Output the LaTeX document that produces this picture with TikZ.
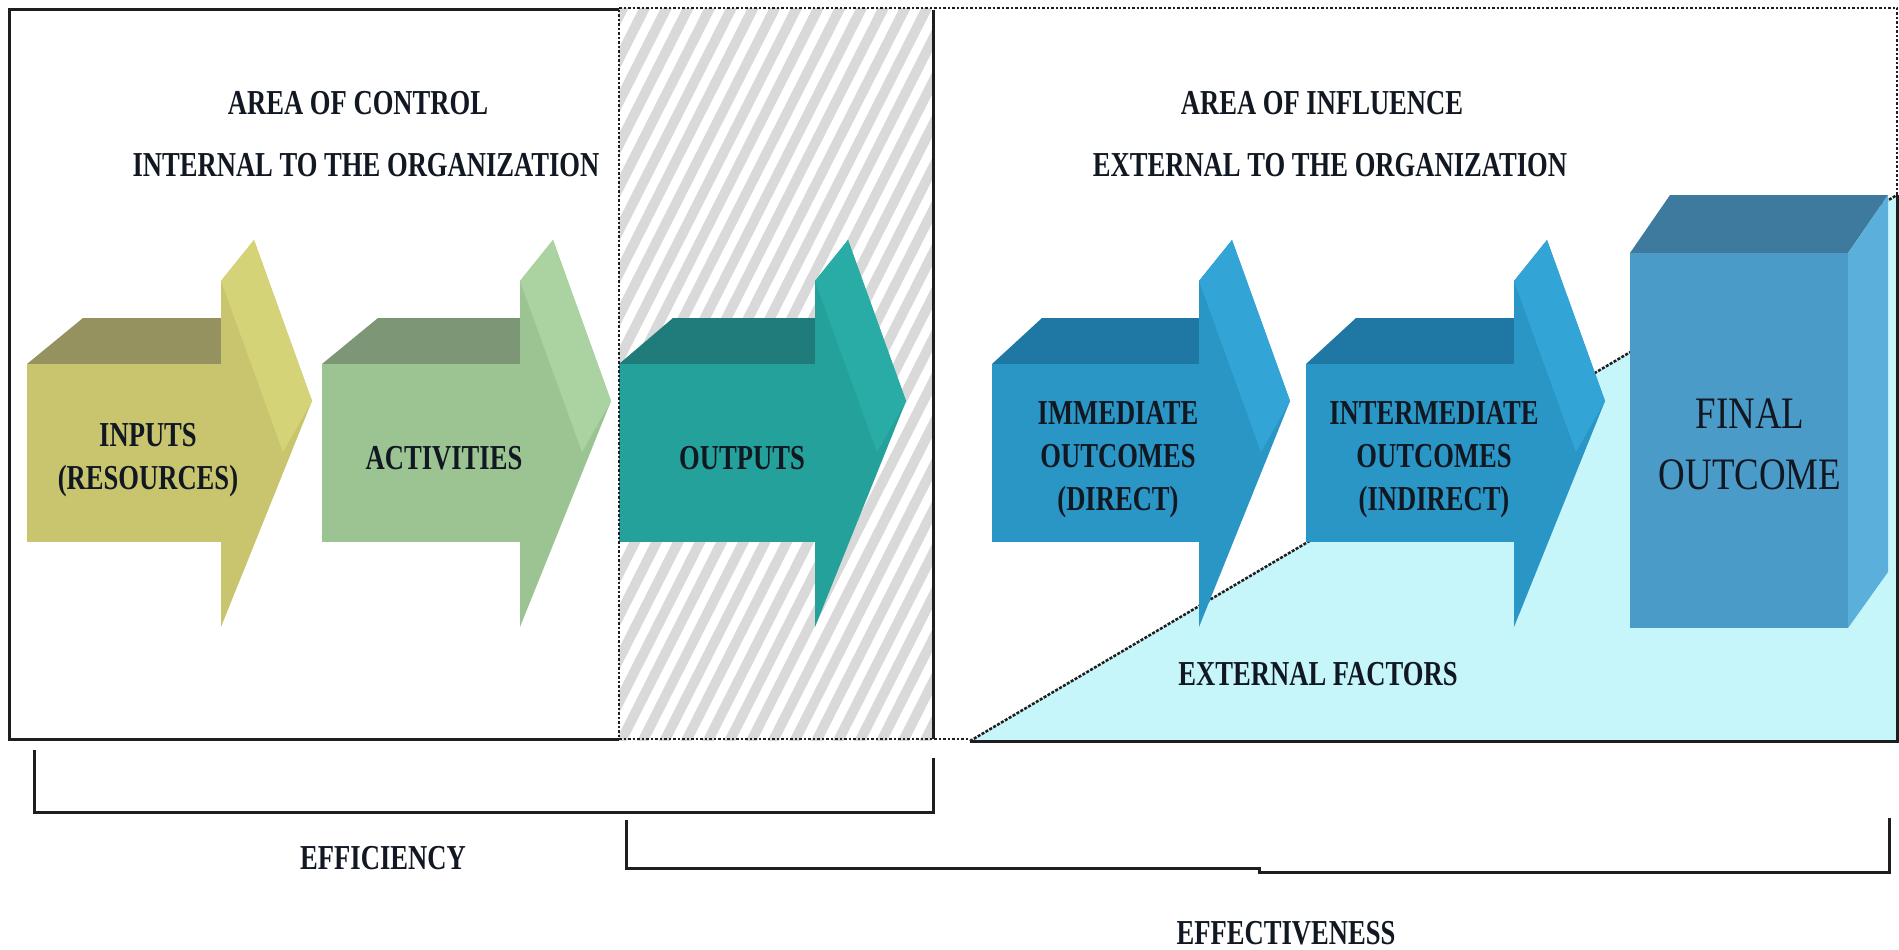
\documentclass[tikz,border=0pt]{standalone}
\usepackage{fontspec}
\setmainfont{Liberation Serif}[FakeStretch=0.76]
\newfontfamily\finalfont{Liberation Serif}[FakeStretch=0.82]
\definecolor{inF}{HTML}{C8C56E}\definecolor{inT}{HTML}{96925F}\definecolor{inS}{HTML}{D4D377}
\definecolor{acF}{HTML}{9CC493}\definecolor{acT}{HTML}{7C9676}\definecolor{acS}{HTML}{ABD3A2}
\definecolor{ouF}{HTML}{24A19B}\definecolor{ouT}{HTML}{1F7C7A}\definecolor{ouS}{HTML}{2AACA6}
\definecolor{blF}{HTML}{2A96C6}\definecolor{blT}{HTML}{1F78A3}\definecolor{blS}{HTML}{32A4D6}
\definecolor{fiF}{HTML}{4B9BC8}\definecolor{fiT}{HTML}{3E7A9E}\definecolor{fiS}{HTML}{5AAFDB}
\definecolor{extF}{HTML}{C6F5FA}
\definecolor{hatchgrey}{HTML}{D9D9D9}
\definecolor{txt}{HTML}{111822}
\definecolor{frame}{HTML}{1E1E1E}
\newcommand\tdarrow[6]{% #1 L, #2 S, #3 front, #4 top, #5 side, #6 top offset
  \fill[#4] (#1,364) -- ({#1+#6},318) -- (#2,318) -- (#2,364) -- cycle;
  \fill[#3] (#1,364) rectangle (#2,542);
  \fill[#3] (#2,281) -- ({#2+33},240) -- ({#2+91},401) -- (#2,627) -- cycle;
  \fill[#5] (#2,281) -- ({#2+33},240) -- ({#2+91},401) -- ({#2+62},452) -- cycle;
}
\tikzset{
  lbl/.style={font=\bfseries\fontsize{35}{43}\selectfont, align=center, inner sep=0pt, text=txt},
  solidframe/.style={line width=3pt, draw=frame},
  dotframe/.style={line width=2.5pt, draw=frame, dash pattern=on 2.5pt off 2pt},
  bracket/.style={line width=3pt, draw=frame},
}
\begin{document}
\begin{tikzpicture}[x=1pt,y=-1pt]
\useasboundingbox[fill=white] (0,0) rectangle (1899,950);
% external factors triangle
\fill[extF] (970,741) -- (1897,195) -- (1897,741) -- cycle;
% hatched outputs area
\begin{scope}
  \clip (619,9) rectangle (933,740);
  \foreach \i in {-20,...,16}
    \draw[hatchgrey, line width=10pt] ({619+\i*21.7},745) -- ({619+\i*21.7+375},4);
\end{scope}
% diagonal boundary
\draw[line width=2.5pt, dash pattern=on 3pt off 1.5pt, draw=frame] (970,741) -- (1897,195);
% arrows
\tdarrow{27}{221}{inF}{inT}{inS}{56}
\tdarrow{322}{520}{acF}{acT}{acS}{56}
\tdarrow{619}{815}{ouF}{ouT}{ouS}{54}
\tdarrow{992}{1199}{blF}{blT}{blS}{50}
\tdarrow{1306}{1514}{blF}{blT}{blS}{50}
% final outcome box
\fill[fiT] (1630,253) -- (1670,195) -- (1888,195) -- (1848,253) -- cycle;
\fill[fiS] (1848,253) -- (1888,195) -- (1888,572) -- (1848,628) -- cycle;
\fill[fiF] (1630,253) rectangle (1848,628);
% frames
\draw[solidframe] (619,10) -- (9,10) -- (9,739) -- (619,739);
\draw[dotframe] (619,10) -- (619,739);
\draw[dotframe] (619,739) -- (970,739);
\draw[solidframe] (933,10) -- (933,739);
\draw[dotframe] (619,8) -- (1897,8) -- (1897,195);
\draw[solidframe] (1897,195) -- (1897,741) -- (970,741);
% texts
\node[lbl] (t1) at (358,103) {AREA OF CONTROL};
\node[lbl] (t2) at (366,165) {INTERNAL TO THE ORGANIZATION};
\node[lbl] (t3) at (1322,103) {AREA OF INFLUENCE};
\node[lbl] (t4) at (1330,165) {EXTERNAL TO THE ORGANIZATION};
\node[lbl] (inp) at (148,460) {INPUTS\\(RESOURCES)};
\node[lbl] (act) at (444,458) {ACTIVITIES};
\node[lbl] (out) at (742,458) {OUTPUTS};
\node[lbl] (imm) at (1118,460) {IMMEDIATE\\OUTCOMES\\(DIRECT)};
\node[lbl] (intm) at (1434,460) {INTERMEDIATE\\OUTCOMES\\(INDIRECT)};
\node[font=\finalfont\fontsize{45}{61}\selectfont, align=center, inner sep=0pt, text=txt] (fin) at (1750,444) {FINAL\\OUTCOME};
\node[lbl] (ext) at (1318,674) {EXTERNAL FACTORS};
% brackets
\coordinate (e1) at (34,750);
\coordinate (e2) at (34,812);
\coordinate (e3) at (933,812);
\coordinate (e4) at (933,758);
\draw[bracket] (e1) -- (e2) -- (e3) -- (e4);
\coordinate (f1) at (626,820);
\coordinate (f2) at (626,868);
\coordinate (f3) at (1259,868);
\coordinate (f4) at (1259,872);
\coordinate (f5) at (1889,872);
\coordinate (f6) at (1889,818);
\draw[bracket] (f1) -- (f2) -- (f3) -- (f4) -- (f5) -- (f6);
\node[lbl] (eff) at (383,858) {EFFICIENCY};
\node[lbl] (effv) at (1286,933) {EFFECTIVENESS};
\end{tikzpicture}
\end{document}
